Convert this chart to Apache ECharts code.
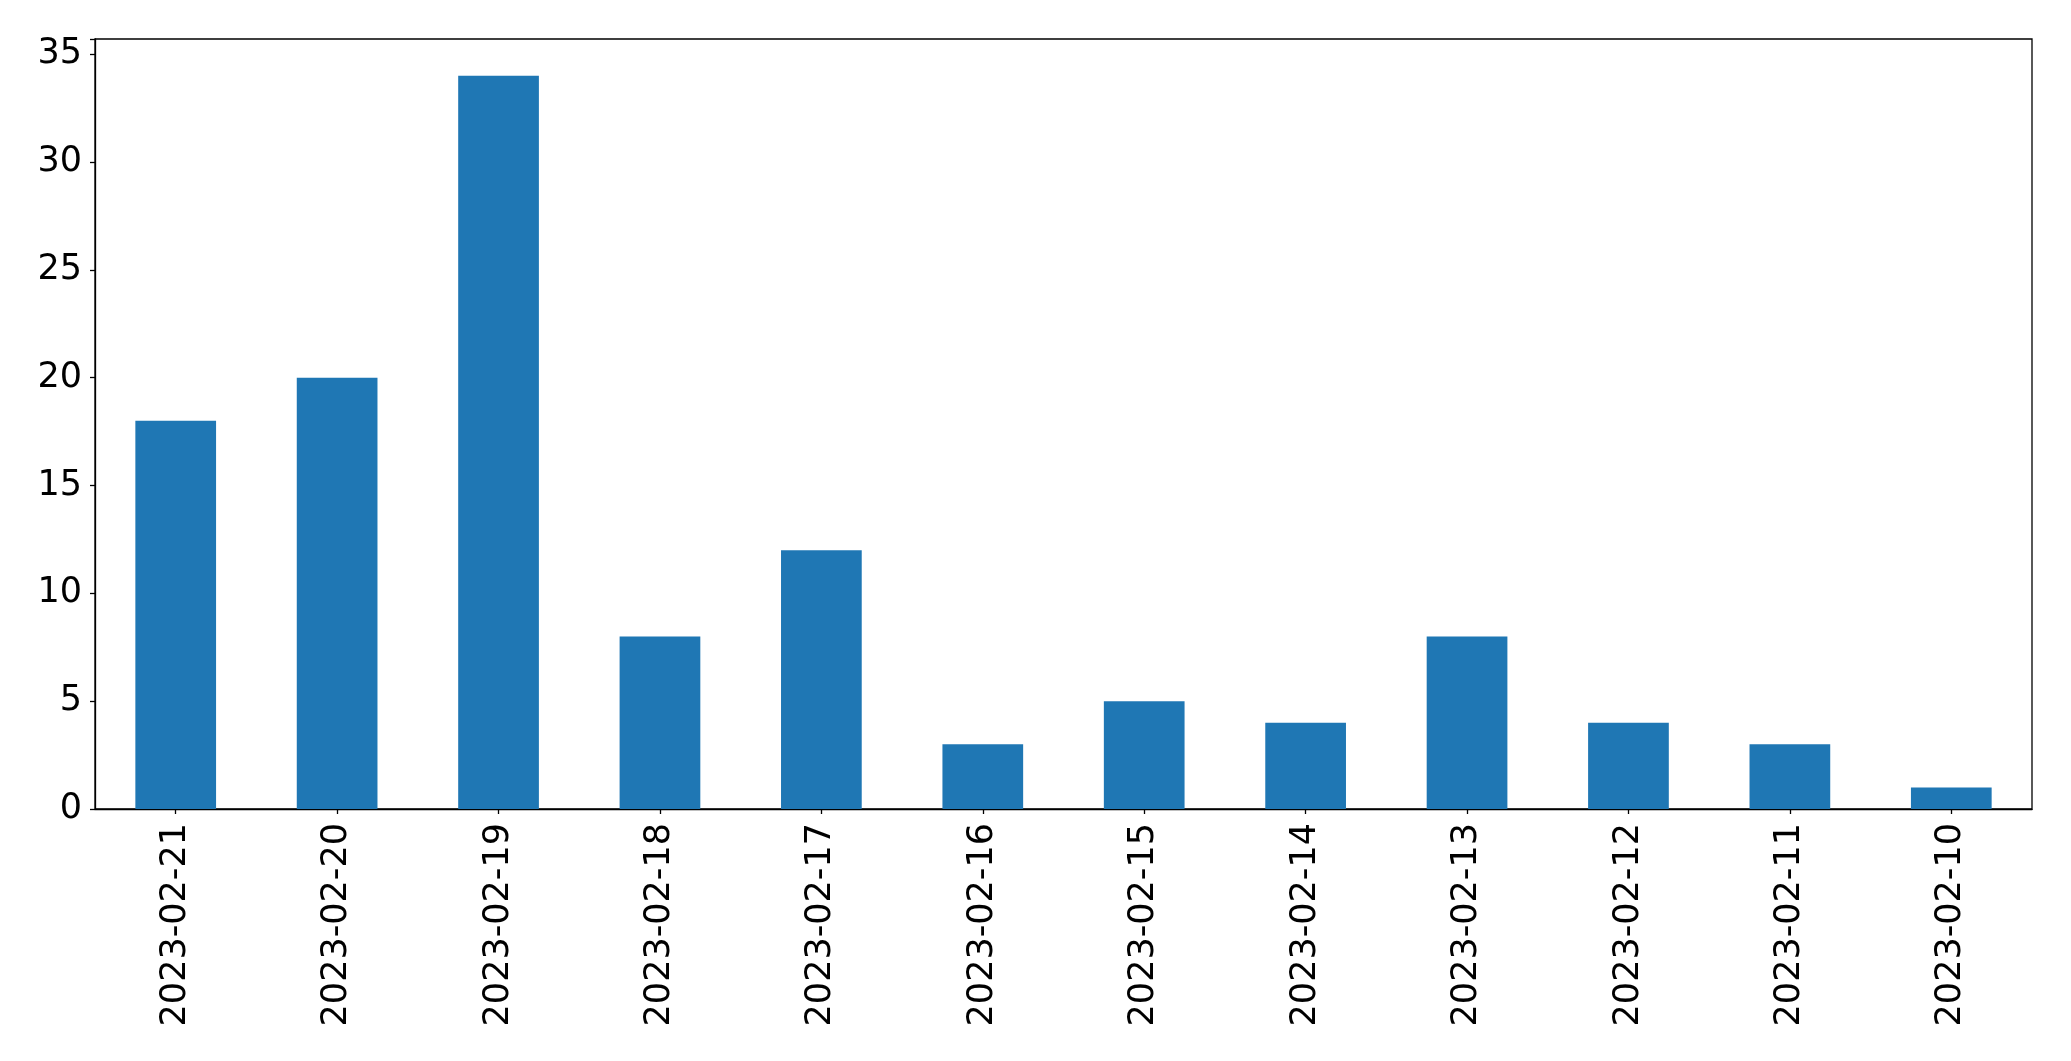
<!DOCTYPE html>
<html>
<head>
<meta charset="utf-8">
<script src="https://cdn.jsdelivr.net/npm/echarts@6/dist/echarts.min.js"></script>
<style>
html,body{margin:0;padding:0;background:#fff;}
#chart{width:2071px;height:1061px;}
</style>
</head>
<body>
<div id="chart"></div>
<script>
const categories = ["2023-02-21","2023-02-20","2023-02-19","2023-02-18","2023-02-17","2023-02-16","2023-02-15","2023-02-14","2023-02-13","2023-02-12","2023-02-11","2023-02-10"];
const values = [18, 20, 34, 8, 12, 3, 5, 4, 8, 4, 3, 1];
const yTicks = [0, 5, 10, 15, 20, 25, 30, 35];

const chart = echarts.init(document.getElementById('chart'), null, {renderer: 'canvas'});
const font = "'DejaVu Sans', sans-serif";
chart.setOption({
  animation: false,
  backgroundColor: '#ffffff',
  grid: {
    left: 95, top: 39, width: 1937, height: 770,
    show: true, borderColor: '#000', borderWidth: 1.3, backgroundColor: 'transparent'
  },
  xAxis: {
    type: 'category',
    data: categories,
    boundaryGap: true,
    axisLine: {show: true, lineStyle: {color: '#000', width: 1.3}},
    axisTick: {show: true, alignWithLabel: true, length: 5, lineStyle: {color: '#000', width: 1.3}},
    axisLabel: {rotate: 90, margin: 14, color: '#000', fontSize: 35, fontFamily: font, interval: 0}
  },
  yAxis: {
    type: 'value',
    min: 0, max: 35.7, interval: 5,
    splitLine: {show: false},
    axisLine: {show: true, lineStyle: {color: '#000', width: 1.3}},
    axisTick: {show: true, length: 5, lineStyle: {color: '#000', width: 1.3}},
    axisLabel: {
      margin: 13, color: '#000', fontSize: 35, fontFamily: font,
      formatter: function (v) { return yTicks.indexOf(v) >= 0 ? String(v) : ''; }
    }
  },
  series: [{
    type: 'bar',
    data: values,
    barWidth: '50%',
    itemStyle: {color: '#1f77b4'}
  }]
});
</script>
</body>
</html>
